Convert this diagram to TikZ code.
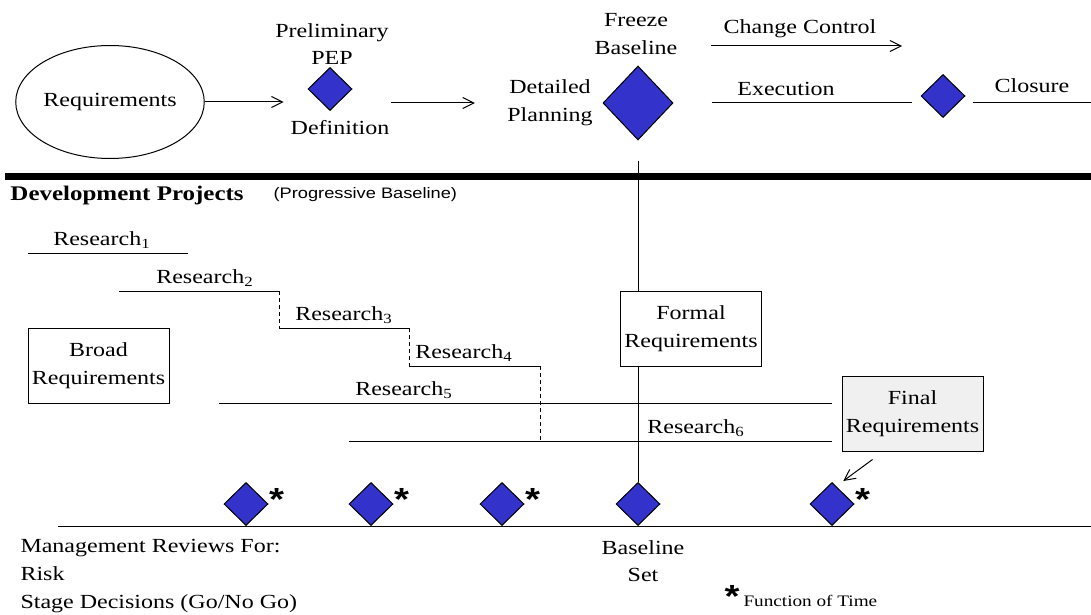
\documentclass[tikz,border=0pt]{standalone}
\usepackage{fontspec}
\setmainfont{Liberation Serif}[FakeStretch=1.2]
\setsansfont{Liberation Sans}[FakeStretch=1.2]
\usetikzlibrary{shapes.geometric, positioning, arrows.meta}
\definecolor{gateBlue}{RGB}{51,51,204}
\colorlet{finalFill}{black!6}
\colorlet{drawColor}{black}
\tikzstyle{txt}=[inner sep=0pt, align=center, font=\fontsize{10}{13.8}\selectfont]
\tikzstyle{oval}=[ellipse, draw=drawColor, inner sep=0pt, minimum width=82.5pt,
  minimum height=56.5pt, font=\fontsize{10}{13.8}\selectfont]
\tikzstyle{rect}=[rectangle, draw=drawColor, fill=white, inner sep=0pt, align=center,
  minimum width=70.5pt, minimum height=37.5pt, font=\fontsize{10}{13.8}\selectfont]
\tikzstyle{gate}=[diamond, draw=drawColor, fill=gateBlue, inner sep=0pt,
  minimum width=22pt, minimum height=21.5pt]
\tikzstyle{bigGate}=[gate, minimum width=35pt, minimum height=37pt]
\tikzstyle{timeStar}=[inner sep=0pt, font=\fontsize{16}{16}\selectfont\sffamily\bfseries]
\tikzstyle{arrow}=[-{Straight Barb[length=5.5pt, width=5.5pt]}]
\tikzstyle{stepline}=[dash pattern=on 2pt off 1.5pt]

\begin{document}
\begin{tikzpicture}[x=0.5pt, y=-0.5pt, line width=0.5pt, node distance=5pt]
  \useasboundingbox (0,0) rectangle (1091,615);
  % project phases
  \node (req) [oval] at (110,102) {Requirements};
  \node (pep) [gate] at (330,89) {};
  \node (pepLbl) [txt] at (332,44) {Preliminary\\PEP};
  \node (defLbl) [txt] at (340,128) {Definition};
  \node (planning) [txt] at (550,103) {Detailed\\Planning};
  \node (freeze) [bigGate] at (638,103) {};
  \node (freezeLbl) [txt] at (636,34) {Freeze\\Baseline};
  \node (closeGate) [gate] at (943,96) {};
  \coordinate (ccStart) at (711,46);
  \coordinate (ccEnd) at (902,46);
  \coordinate (rightEnd) at (1091,103);
  \draw [arrow, shorten >=12pt] (req.east) -- (pep.west |- req.east);
  \draw [arrow, shorten <=19pt, shorten >=16pt] (pep.east |- planning.west) -- (planning.west);
  \draw [arrow] (ccStart) -- (ccEnd);
  \node (ccLbl) [txt] at (800,29) {Change Control};
  \draw [shorten <=19pt, shorten >=4.5pt] (freeze.east) -- (closeGate.west |- freeze.east);
  \node (execLbl) [txt] at (786,89) {Execution};
  \draw [shorten <=3.5pt] (closeGate.east |- rightEnd) -- (rightEnd);
  \node (closureLbl) [txt] at (1032,86) {Closure};

  % development projects
  \node (formal) [rect] at (691,328.5) {Formal\\Requirements};
  \node (broad) [rect] at (98.5,365.5) {Broad\\Requirements};
  \node (final) [rect, fill=finalFill] at (912.5,413.5) {Final\\Requirements};
  \node (baseGate) [gate] at (638,504) {};
  \draw [shorten <=10pt] (freeze.south) -- (freeze.south |- formal.north);
  \draw (baseGate.north |- formal.south) -- (baseGate.north);
  \draw [line width=3.5pt] (5,176.5) -- (1091,176.5);
  \node (devTitle) [txt, anchor=west, font=\fontsize{10.4}{12}\selectfont\bfseries] at (10,195) {Development Projects};
  \node (progLbl) [txt, right=14.5pt of devTitle, font=\fontsize{7.6}{9}\selectfont\sffamily] {(Progressive Baseline)};

  \draw (28,253) -- (188,253);
  \node (r1) [txt, anchor=south] at (102,249) {Research\textsubscript{1}};
  \draw (119,291) -- (279,291);
  \node (r2) [txt, anchor=south] at (205,287) {Research\textsubscript{2}};
  \draw [stepline] (279,291) -- (279,328);
  \draw (279,328) -- (409,328);
  \node (r3) [txt, anchor=south] at (344,324) {Research\textsubscript{3}};
  \draw [stepline] (409,328) -- (409,366);
  \draw (409,366) -- (540,366);
  \node (r4) [txt, anchor=south] at (464,362) {Research\textsubscript{4}};
  \draw [stepline] (540,366) -- (540,441);
  \draw (219,403) -- (832,403);
  \node (r5) [txt, anchor=south] at (404,399) {Research\textsubscript{5}};
  \draw (349,441) -- (832,441);
  \node (r6) [txt, anchor=south] at (696,437) {Research\textsubscript{6}};

  % management reviews
  \draw (58,526) -- (1091,526);
  \node (g1) [gate] at (246,504) {};
  \node (g2) [gate] at (371,504) {};
  \node (g3) [gate] at (502,504) {};
  \node (finalGate) [gate] at (832,504) {};
  \node (s1) [timeStar, anchor=north west] at ([yshift=8pt]g1.east) {*};
  \node (s2) [timeStar, anchor=north west] at ([yshift=8pt]g2.east) {*};
  \node (s3) [timeStar, anchor=north west] at ([yshift=8pt]g3.east) {*};
  \node (s4) [timeStar, anchor=north west] at ([yshift=8pt]finalGate.east) {*};
  \draw [arrow] ([xshift=-20pt, yshift=-4pt]final.south) -- ([yshift=6pt]finalGate.north east);
  \node (baseLbl) [txt] at (643,561) {Baseline\\Set};
  \node (mgmtLbl) [txt, anchor=west, align=left] at (20,576) {Management Reviews For:\\Risk\\Stage Decisions (Go/No Go)};
  \node (legendStar) [timeStar, anchor=north west] at (724,585) {*};
  \node (legendLbl) [txt, anchor=west, font=\fontsize{8}{9}\selectfont] at (743,601) {Function of Time};
\end{tikzpicture}
\end{document}
